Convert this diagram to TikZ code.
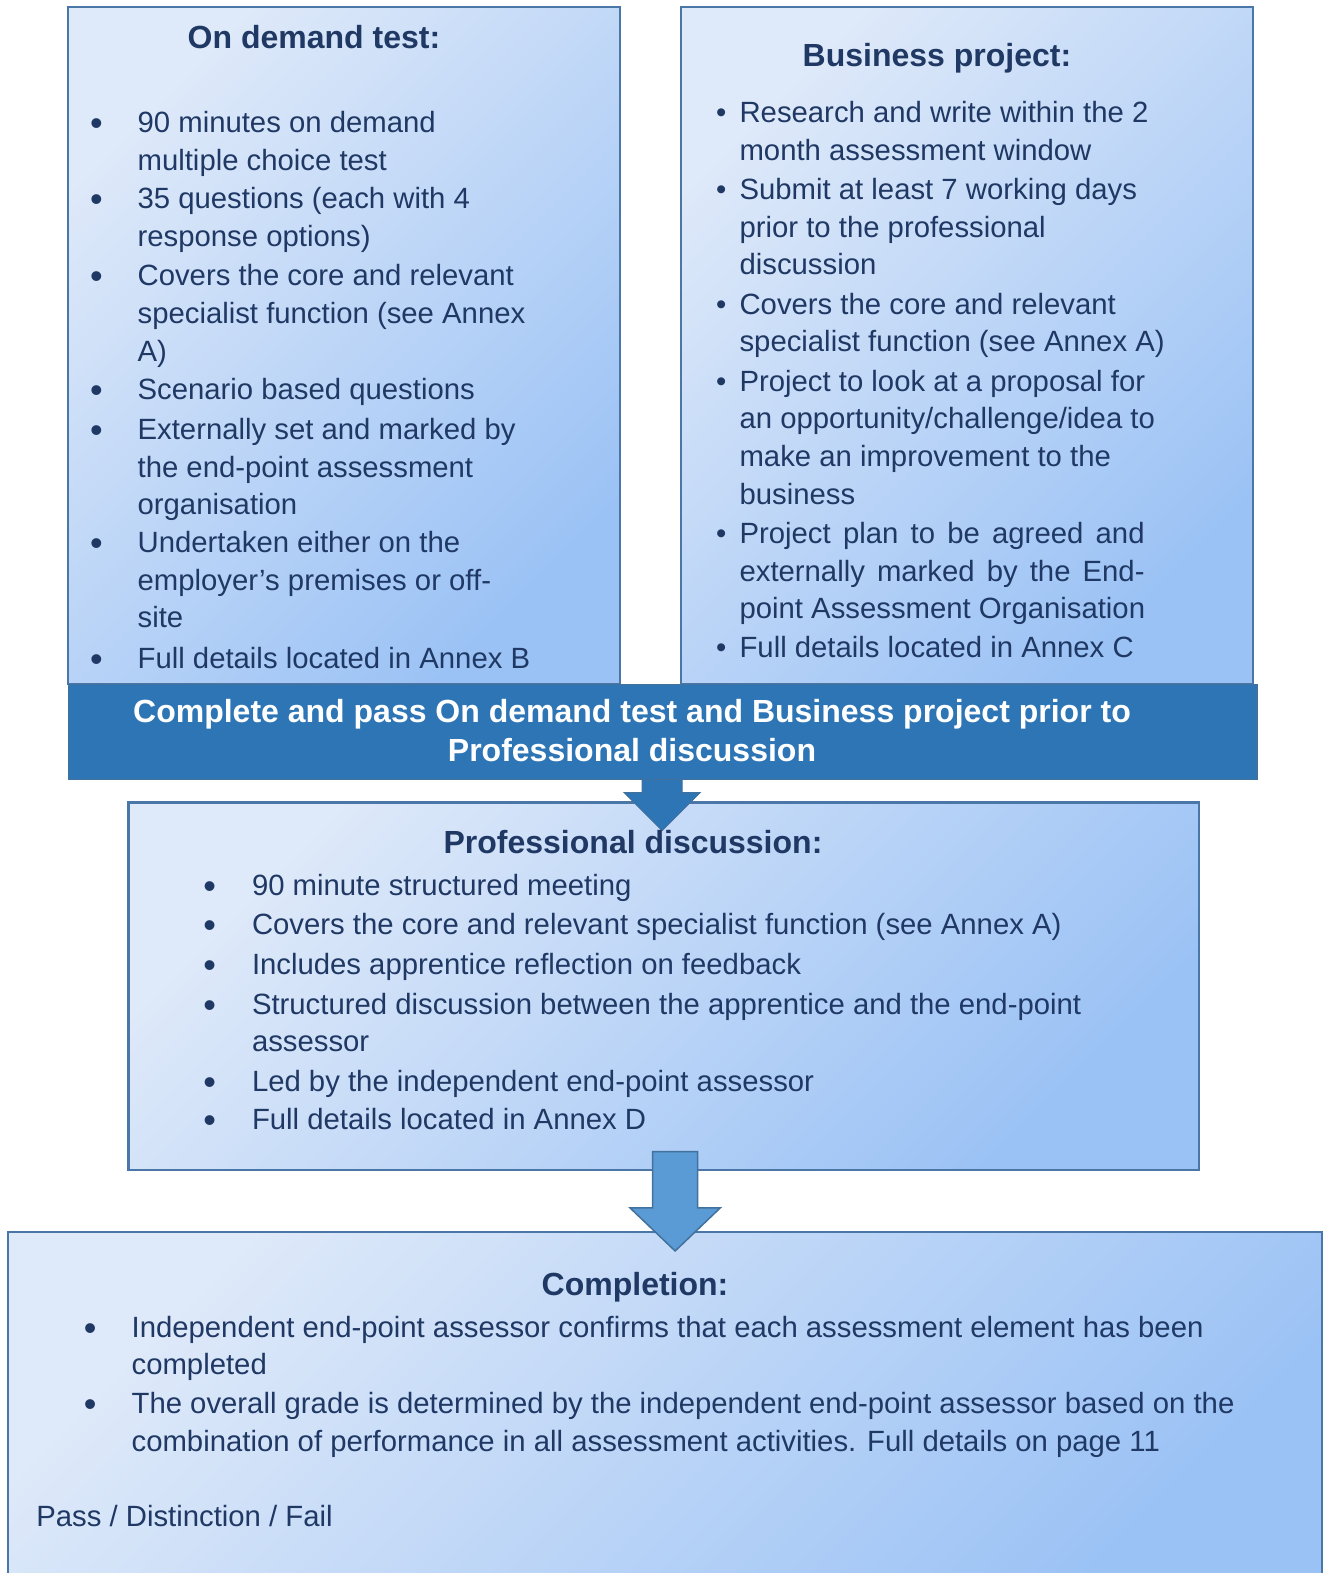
\documentclass[tikz,border=0pt]{standalone}
\usepackage{fontspec}
\setmainfont{Liberation Sans}
\usetikzlibrary{calc}
\definecolor{navy}{HTML}{1F3864}
\definecolor{boxlight}{HTML}{DEE9F9}
\definecolor{boxdark}{HTML}{9BC2F5}
\definecolor{boxborder}{HTML}{4A76A8}
\definecolor{bannerblue}{HTML}{2E75B6}
\definecolor{arrowlight}{HTML}{5B9BD5}
\definecolor{arrowborder}{HTML}{41719C}
\newcommand\itm[6]{% name, bullet x, text x, baseline y, width, text
  \node[bul] (#1b) at (#2,#4) {•};
  \node[txt] (#1) at (#3,#4) {\parbox[t]{#5pt}{\raggedright #6}};}
\newcommand\bitm[6]{% same, with the larger bullet
  \node[bigbul] (#1b) at (#2,#4) {\raisebox{-3pt}{•}};
  \node[txt] (#1) at (#3,#4) {\parbox[t]{#5pt}{\raggedright #6}};}
\begin{document}
\begin{tikzpicture}[x=1.00303pt,y=-1.00303pt,
  panel/.style={rectangle, draw=boxborder, line width=2.2pt, left color=boxlight, right color=boxdark, shading angle=45, inner sep=0pt},
  bannerbox/.style={rectangle, draw=arrowborder, line width=1.2pt, fill=bannerblue, inner sep=0pt},
  bul/.style={anchor=base, inner sep=0pt, text=navy, font=\fontsize{29.3}{37.6}\selectfont},
  bigbul/.style={anchor=base, inner sep=0pt, text=navy, font=\fontsize{36}{37.6}\selectfont},
  txt/.style={anchor=base west, inner sep=0pt, text=navy, font=\fontsize{29.3}{37.6}\selectfont},
  ttl/.style={anchor=base, inner sep=0pt, text=navy, font=\fontsize{32}{39}\selectfont\bfseries},
  arrowA/.style={fill=bannerblue, draw=arrowborder, line width=1pt, line join=miter},
  arrowB/.style={fill=arrowlight, draw=arrowborder, line width=1.5pt, line join=miter}]
\useasboundingbox (0,0) rectangle (1320,1568);
\fill[white] (0,0) rectangle (1320,1568);
% boxes
\node[panel, minimum width=551.7pt, minimum height=677pt] (ondemand) at (343,344.5) {};
\node[panel, minimum width=571.7pt, minimum height=677pt] (business) at (964,344.5) {};
\node[panel, minimum width=1070.2pt, minimum height=367.1pt] (prof) at (661.5,983) {};
\node[panel, minimum width=1314pt, minimum height=363.1pt] (completion) at (663,1409) {};
\node[bannerbox, minimum width=1188.6pt, minimum height=95.3pt] (banner) at (660.5,729.5) {};
% banner text
\node[anchor=base, inner sep=0pt, text=white, font=\fontsize{32}{39.2}\selectfont\bfseries] (bannertxt) at (630,720)
  {\parbox[t]{1160pt}{\centering Complete and pass On demand test and Business project prior to\\Professional discussion}};
% arrows
\coordinate (a1s) at (660,777);
\coordinate (a1t) at (660,828);
\draw[arrowA] ($(a1s)+(-20,0)$) -- ($(a1s)+(20,0)$) -- ($(a1t)+(20,-38)$) -- ($(a1t)+(38,-38)$) -- (a1t) -- ($(a1t)+(-38,-38)$) -- ($(a1t)+(-20,-38)$) -- cycle;
\coordinate (a2s) at (673,1148);
\coordinate (a2t) at (673,1247);
\draw[arrowB] ($(a2s)+(-22.5,0)$) -- ($(a2s)+(22.5,0)$) -- ($(a2t)+(22.5,-43)$) -- ($(a2t)+(45,-43)$) -- (a2t) -- ($(a2t)+(-45,-43)$) -- ($(a2t)+(-22.5,-43)$) -- cycle;
% On demand test
\node[ttl] (t1) at (313,48) {On demand test:};
\bitm{l1}{96}{137}{132}{470}{90 minutes on demand\\multiple choice test}
\bitm{l2}{96}{137}{208}{470}{35 questions (each with 4\\response options)}
\bitm{l3}{96}{137}{285}{470}{Covers the core and relevant\\specialist function (see Annex\\A)}
\bitm{l4}{96}{137}{398}{470}{Scenario based questions}
\bitm{l5}{96}{137}{438}{470}{Externally set and marked by\\the end-point assessment\\organisation}
\bitm{l6}{96}{137}{551}{470}{Undertaken either on the\\employer’s premises or off-\\site}
\bitm{l7}{96}{137}{666}{470}{Full details located in Annex B}
% Business project
\node[ttl] (t2) at (934,66) {Business project:};
\itm{r1}{719}{737}{122}{500}{Research and write within the 2\\month assessment window}
\itm{r2}{719}{737}{199}{500}{Submit at least 7 working days\\prior to the professional\\discussion}
\itm{r3}{719}{737}{313}{500}{Covers the core and relevant\\specialist function (see Annex A)}
\itm{r4}{719}{737}{390}{500}{Project to look at a proposal for\\an opportunity/challenge/idea to\\make an improvement to the\\business}
\itm{r5}{719}{737}{542}{500}{\makebox[405pt][s]{Project plan to be agreed and}\\\makebox[405pt][s]{externally marked by the End-}\\point Assessment Organisation}
\itm{r6}{719}{737}{655}{500}{Full details located in Annex C}
% Professional discussion
\node[ttl] (t3) at (631,851) {Professional discussion:};
\bitm{p1}{209}{251}{893}{930}{90 minute structured meeting}
\bitm{p2}{209}{251}{932}{930}{Covers the core and relevant specialist function (see Annex A)}
\bitm{p3}{209}{251}{971}{930}{Includes apprentice reflection on feedback}
\bitm{p4}{209}{251}{1011}{930}{Structured discussion between the apprentice and the end-point\\assessor}
\bitm{p5}{209}{251}{1088}{930}{Led by the independent end-point assessor}
\bitm{p6}{209}{251}{1126}{930}{Full details located in Annex D}
% Completion
\node[ttl] (t4) at (633,1291) {Completion:};
\bitm{c1}{90}{131}{1333}{1170}{Independent end-point assessor confirms that each assessment element has been\\completed}
\bitm{c2}{90}{131}{1409}{1170}{The overall grade is determined by the independent end-point assessor based on the\\combination of performance in all assessment activities. Full details on page 11}
\node[txt] (grade) at (36,1522) {Pass / Distinction / Fail};
\end{tikzpicture}
\end{document}
